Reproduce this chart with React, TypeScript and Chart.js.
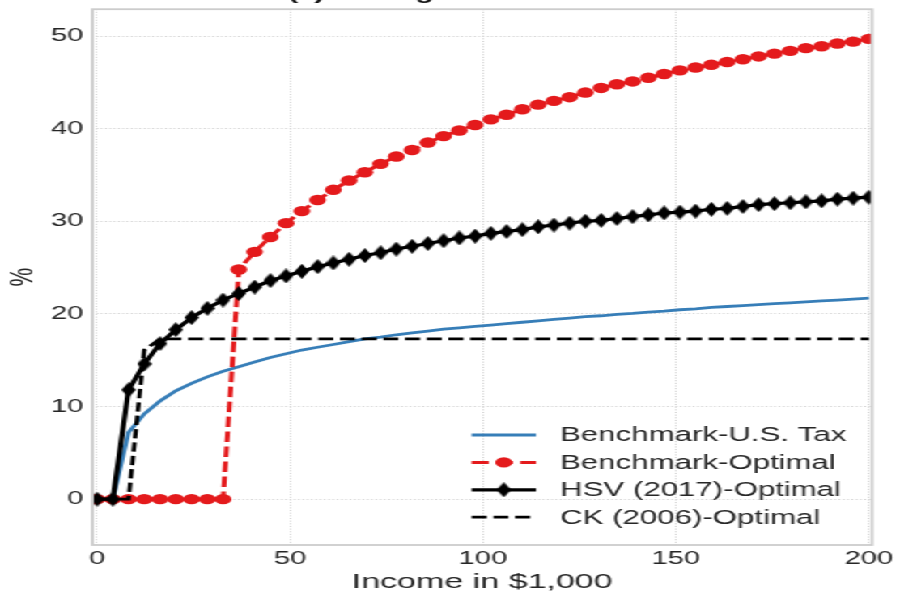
import React, { useEffect, useRef } from "react";
import { Chart, registerables } from "chart.js";
Chart.register(...registerables);

// ---------- data ----------
const incomeGrid = [
  0, 4.08, 8.16, 12.24, 16.33, 20.41, 24.49, 28.57, 32.65, 36.73,
  40.82, 44.9, 48.98, 53.06, 57.14, 61.22, 65.31, 69.39, 73.47, 77.55,
  81.63, 85.71, 89.8, 93.88, 97.96, 102.04, 106.12, 110.2, 114.29, 118.37,
  122.45, 126.53, 130.61, 134.69, 138.78, 142.86, 146.94, 151.02, 155.1, 159.18,
  163.27, 167.35, 171.43, 175.51, 179.59, 183.67, 187.76, 191.84, 195.92, 200,
];
const usTax = [
  0, 0, 7.2, 9.2, 10.6, 11.7, 12.5, 13.2, 13.8, 14.3,
  14.8, 15.3, 15.7, 16.1, 16.4, 16.7, 17.0, 17.3, 17.5, 17.75,
  17.95, 18.15, 18.35, 18.5, 18.65, 18.8, 18.95, 19.1, 19.25, 19.4,
  19.55, 19.7, 19.8, 19.95, 20.05, 20.2, 20.3, 20.45, 20.55, 20.7,
  20.8, 20.9, 21.0, 21.1, 21.2, 21.3, 21.4, 21.5, 21.6, 21.7,
];
const benchOptimal = [
  0, 0, 0, 0, 0, 0, 0, 0, 0, 24.8,
  26.7, 28.3, 29.8, 31.1, 32.3, 33.4, 34.4, 35.3, 36.2, 37.0,
  37.7, 38.5, 39.2, 39.8, 40.4, 41.0, 41.5, 42.1, 42.6, 43.0,
  43.4, 43.9, 44.4, 44.8, 45.1, 45.5, 45.9, 46.3, 46.6, 46.9,
  47.2, 47.5, 47.8, 48.1, 48.4, 48.7, 48.9, 49.2, 49.4, 49.7,
];
const hsvOptimal = [
  0, 0, 11.8, 14.6, 16.8, 18.3, 19.6, 20.6, 21.5, 22.2,
  22.9, 23.6, 24.1, 24.6, 25.1, 25.5, 25.9, 26.3, 26.6, 27.0,
  27.3, 27.6, 27.9, 28.2, 28.4, 28.7, 28.9, 29.1, 29.4, 29.6,
  29.8, 30.0, 30.1, 30.3, 30.5, 30.7, 30.9, 31.0, 31.1, 31.3,
  31.4, 31.6, 31.8, 31.9, 32.0, 32.1, 32.2, 32.4, 32.5, 32.6,
];
const ckOptimal = [
  0, 0, 0, 16.1, 17.3, 17.3, 17.3, 17.3, 17.3, 17.3,
  17.3, 17.3, 17.3, 17.3, 17.3, 17.3, 17.3, 17.3, 17.3, 17.3,
  17.3, 17.3, 17.3, 17.3, 17.3, 17.3, 17.3, 17.3, 17.3, 17.3,
  17.3, 17.3, 17.3, 17.3, 17.3, 17.3, 17.3, 17.3, 17.3, 17.3,
  17.3, 17.3, 17.3, 17.3, 17.3, 17.3, 17.3, 17.3, 17.3, 17.3,
];
const seriesLabels = [
  "Benchmark-U.S. Tax",
  "Benchmark-Optimal",
  "HSV (2017)-Optimal",
  "CK (2006)-Optimal",
];
const xTickValues = [0, 50, 100, 150, 200];
const yTickValues = [0, 10, 20, 30, 40, 50];
const titleText = "(a) Average Tax Rates";
const xAxisTitle = "Income in $1,000";
const yAxisTitle = "%";

// ---------- styling ----------
const INNER_W = 556;
const H = 592;
const SX = 900 / INNER_W;
const BLUE = "#377eb8";
const RED = "#e41a1c";
const TEXT = "#262626";
const FONT = "'Liberation Sans', Arial, Helvetica, sans-serif";
const AREA = { left: 57.1, right: 538.7, top: 7, bottom: 545 };

function makeThinDiamond(): HTMLCanvasElement {
  const c = document.createElement("canvas");
  c.width = 9;
  c.height = 15;
  const g = c.getContext("2d")!;
  g.fillStyle = "#000";
  g.beginPath();
  g.moveTo(4.5, 0);
  g.lineTo(9, 7.5);
  g.lineTo(4.5, 15);
  g.lineTo(0, 7.5);
  g.closePath();
  g.fill();
  return c;
}

const bgPlugin = {
  id: "bg",
  beforeDraw(chart: any) {
    const ctx = chart.ctx;
    ctx.save();
    ctx.fillStyle = "#fff";
    ctx.fillRect(0, 0, chart.width, chart.height);
    ctx.restore();
  },
};

const framePlugin = {
  id: "frame",
  afterDatasetsDraw(chart: any) {
    const { ctx, chartArea: a } = chart;
    ctx.save();
    ctx.strokeStyle = "#cccccc";
    ctx.lineWidth = 1.8;
    ctx.setLineDash([]);
    ctx.strokeRect(a.left, a.top, a.right - a.left, a.bottom - a.top);
    ctx.restore();
  },
};

const titlePlugin = {
  id: "cutTitle",
  afterDraw(chart: any) {
    const ctx = chart.ctx;
    ctx.save();
    ctx.fillStyle = "#111";
    ctx.font = `bold 18.5px ${FONT}`;
    ctx.textAlign = "left";
    ctx.textBaseline = "alphabetic";
    ctx.fillText(titleText, 177.9, -1);
    ctx.restore();
  },
};

const legendPlugin = {
  id: "lineLegend",
  afterDraw(chart: any) {
    const ctx = chart.ctx;
    const hx0 = 291.4;
    const hx1 = 331.1;
    const tx = 346;
    const y0 = 435;
    const dy = 27.4;
    chart.data.datasets.forEach((ds: any, i: number) => {
      const y = y0 + i * dy;
      ctx.save();
      ctx.strokeStyle = ds.borderColor;
      ctx.lineWidth = ds.borderWidth;
      ctx.setLineDash(ds.borderDash || []);
      ctx.beginPath();
      ctx.moveTo(hx0, y);
      ctx.lineTo(hx1, y);
      ctx.stroke();
      ctx.setLineDash([]);
      const mx = (hx0 + hx1) / 2;
      if (ds.pointRadius > 0) {
        const ps = ds.pointStyle;
        if (ps && typeof ps === "object") {
          ctx.drawImage(ps, mx - ps.width / 2, y - ps.height / 2);
        } else {
          ctx.fillStyle = ds.pointBackgroundColor || ds.borderColor;
          ctx.beginPath();
          ctx.arc(mx, y, ds.pointRadius, 0, Math.PI * 2);
          ctx.fill();
        }
      }
      ctx.fillStyle = TEXT;
      ctx.font = `19.3px ${FONT}`;
      ctx.textAlign = "left";
      ctx.textBaseline = "middle";
      ctx.fillText(ds.label, tx, y + 1);
      ctx.restore();
    });
  },
};

export default function App() {
  const ref = useRef<HTMLCanvasElement>(null);
  useEffect(() => {
    const canvas = ref.current!;
    const diamond = makeThinDiamond();
    const toPts = (ys: number[]) => incomeGrid.map((x, i) => ({ x, y: ys[i] }));
    const chart = new Chart(canvas, {
      type: "line",
      data: {
        datasets: [
          {
            label: seriesLabels[0],
            data: toPts(usTax),
            borderColor: BLUE,
            backgroundColor: BLUE,
            borderWidth: 2.8,
            pointRadius: 0,
            tension: 0,
            order: 4,
          },
          {
            label: seriesLabels[1],
            data: toPts(benchOptimal),
            borderColor: RED,
            backgroundColor: RED,
            borderWidth: 3,
            borderDash: [10.5, 4.5],
            pointStyle: "circle",
            pointRadius: 5.2,
            pointBorderWidth: 0,
            pointBackgroundColor: RED,
            pointBorderColor: RED,
            tension: 0,
            order: 3,
          },
          {
            label: seriesLabels[2],
            data: toPts(hsvOptimal),
            borderColor: "#000",
            backgroundColor: "#000",
            borderWidth: 3.2,
            pointStyle: diamond as any,
            pointRadius: 6,
            tension: 0,
            order: 2,
          },
          {
            label: seriesLabels[3],
            data: toPts(ckOptimal),
            borderColor: "#000",
            backgroundColor: "#000",
            borderWidth: 2.7,
            borderDash: [9.3, 4.1],
            pointRadius: 0,
            tension: 0,
            order: 1,
          },
        ] as any,
      },
      options: {
        responsive: false,
        maintainAspectRatio: false,
        animation: false,
        events: [],
        layout: {
          padding: { top: AREA.top, right: INNER_W - AREA.right, left: 0, bottom: 0 },
        },
        plugins: { legend: { display: false }, tooltip: { enabled: false }, title: { display: false } },
        scales: {
          x: {
            type: "linear",
            min: -1.2,
            max: 200.8,
            afterBuildTicks: (s: any) => {
              s.ticks = xTickValues.map((v) => ({ value: v }));
            },
            afterFit: (s: any) => {
              s.height = H - AREA.bottom;
              s.paddingLeft = 0;
              s.paddingRight = 0;
              s.paddingTop = 0;
              s.paddingBottom = 0;
            },
            grid: { color: "#cfcfcf", lineWidth: 1, drawTicks: false },
            border: { display: false, dash: [1, 1.65] },
            ticks: { color: TEXT, font: { family: FONT, size: 18 }, padding: 3.5, maxRotation: 0 },
            title: {
              display: true,
              text: xAxisTitle,
              color: TEXT,
              font: { family: FONT, size: 21, lineHeight: 1.2 },
              padding: { top: 0, bottom: -2.5 },
            },
          },
          y: {
            type: "linear",
            min: -4.95,
            max: 52.9,
            afterBuildTicks: (s: any) => {
              s.ticks = yTickValues.map((v) => ({ value: v }));
            },
            afterFit: (s: any) => {
              s.width = AREA.left;
              s.paddingLeft = 0;
              s.paddingRight = 0;
              s.paddingTop = 0;
              s.paddingBottom = 0;
            },
            grid: { color: "#cfcfcf", lineWidth: 1, drawTicks: false },
            border: { display: false, dash: [1, 1.65] },
            ticks: { color: TEXT, font: { family: FONT, size: 18 }, padding: 5.6 },
            title: {
              display: true,
              text: yAxisTitle,
              color: TEXT,
              font: { family: FONT, size: 21, lineHeight: 1.1 },
              padding: { top: 3, bottom: 0 },
            },
          },
        },
      } as any,
      plugins: [bgPlugin, framePlugin, titlePlugin, legendPlugin],
    });
    return () => chart.destroy();
  }, []);
  return (
    <div
      style={{
        position: "fixed",
        left: 0,
        top: 0,
        width: INNER_W,
        height: H,
        transform: `scaleX(${SX})`,
        transformOrigin: "0 0",
        background: "#fff",
      }}
    >
      <canvas ref={ref} width={INNER_W} height={H} />
    </div>
  );
}
